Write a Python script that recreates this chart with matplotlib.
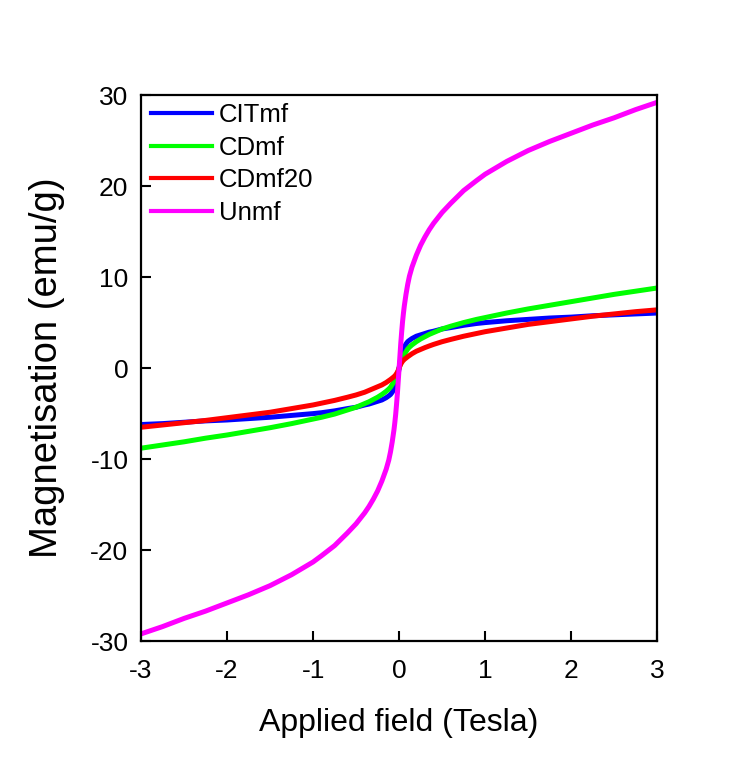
import matplotlib
matplotlib.use("Agg")
import matplotlib.pyplot as plt

plt.rcParams['font.family'] = ['Liberation Sans', 'DejaVu Sans']

# Applied field (T)
field = [-3.0, -2.75, -2.5, -2.25, -2.0, -1.75, -1.5, -1.25, -1.0, -0.9, -0.75, -0.6,
         -0.5, -0.4, -0.35, -0.3, -0.25, -0.2, -0.15, -0.12, -0.1, -0.08, -0.06,
         -0.05, -0.04, -0.03, -0.02, -0.01, 0.0,
         0.01, 0.02, 0.03, 0.04, 0.05, 0.06, 0.08, 0.1, 0.12, 0.15, 0.2, 0.25,
         0.3, 0.35, 0.4, 0.5, 0.6, 0.75, 0.9, 1.0, 1.25, 1.5, 1.75, 2.0, 2.25,
         2.5, 2.75, 3.0]

# Magnetisation (emu/g) of each sample
citmf = [-6.2, -6.1, -5.95, -5.8, -5.7, -5.55, -5.4, -5.2, -5.0, -4.9, -4.7, -4.45,
         -4.3, -4.05, -3.95, -3.8, -3.65, -3.5, -3.25, -3.05, -2.9, -2.65, -2.3,
         -2.1, -1.85, -1.5, -1.1, -0.6, 0.0,
         0.6, 1.1, 1.5, 1.85, 2.1, 2.3, 2.65, 2.9, 3.05, 3.25, 3.5, 3.65,
         3.8, 3.95, 4.05, 4.3, 4.45, 4.7, 4.9, 5.0, 5.2, 5.35, 5.5, 5.6, 5.75,
         5.85, 5.95, 6.05]

cdmf = [-8.8, -8.45, -8.1, -7.7, -7.35, -6.95, -6.55, -6.1, -5.6, -5.4, -5.05, -4.6,
        -4.3, -3.9, -3.7, -3.45, -3.2, -2.9, -2.55, -2.3, -2.1, -1.8, -1.5,
        -1.3, -1.1, -0.85, -0.6, -0.3, 0.0,
        0.3, 0.6, 0.85, 1.1, 1.3, 1.5, 1.8, 2.1, 2.3, 2.55, 2.9, 3.2,
        3.45, 3.7, 3.9, 4.3, 4.6, 5.0, 5.35, 5.55, 6.05, 6.5, 6.9, 7.3, 7.7,
        8.1, 8.45, 8.8]

cdmf20 = [-6.5, -6.25, -6.0, -5.75, -5.45, -5.15, -4.85, -4.45, -4.05, -3.85, -3.55, -3.2,
          -2.95, -2.65, -2.45, -2.25, -2.05, -1.85, -1.58, -1.38, -1.25, -1.1, -0.95,
          -0.85, -0.75, -0.6, -0.45, -0.25, 0.0,
          0.25, 0.45, 0.6, 0.75, 0.85, 0.95, 1.1, 1.25, 1.38, 1.58, 1.85, 2.05,
          2.25, 2.43, 2.6, 2.9, 3.15, 3.5, 3.8, 4.0, 4.4, 4.8, 5.1, 5.4, 5.7,
          5.95, 6.2, 6.4]

unmf = [-29.2, -28.4, -27.5, -26.7, -25.8, -24.9, -23.9, -22.7, -21.3, -20.6, -19.5, -18.1,
        -17.1, -15.9, -15.2, -14.4, -13.5, -12.4, -11.1, -10.1, -9.2, -8.1, -6.8,
        -6.0, -5.1, -4.0, -2.8, -1.4, 0.0,
        1.4, 2.8, 4.0, 5.1, 6.0, 6.8, 8.1, 9.2, 10.1, 11.1, 12.4, 13.5,
        14.4, 15.2, 15.9, 17.1, 18.1, 19.5, 20.6, 21.3, 22.7, 23.9, 24.9, 25.8, 26.7,
        27.5, 28.4, 29.2]

labels = ["CITmf", "CDmf", "CDmf20", "Unmf"]
colors = ["#0000ff", "#00ff00", "#ff0000", "#ff00ff"]
series = [citmf, cdmf, cdmf20, unmf]

xticks = [-3, -2, -1, 0, 1, 2, 3]
yticks = [-30, -20, -10, 0, 10, 20, 30]

fig = plt.figure(figsize=(7.46, 7.57), dpi=100)
ax = fig.add_axes([0.189, 0.153, 0.692, 0.7215])

for y, c, lab in zip(series, colors, labels):
    ax.plot(field, y, color=c, lw=3.6, label=lab, solid_joinstyle='round')

ax.set_xlim(-3, 3)
ax.set_ylim(-30, 30)
ax.set_xticks(xticks)
ax.set_yticks(yticks)
ax.set_xticklabels([str(t) for t in xticks])
ax.set_yticklabels([str(t) for t in yticks])
ax.tick_params(direction='in', length=7, width=1.5, labelsize=19,
               top=False, right=False)
ax.tick_params(axis='x', pad=13)
ax.tick_params(axis='y', pad=9)
for s in ax.spines.values():
    s.set_linewidth(1.6)

ax.set_xlabel("Applied field (Tesla)", fontsize=23, labelpad=18)
ax.set_ylabel("Magnetisation (emu/g)", fontsize=27.5, labelpad=18)

leg = ax.legend(loc='upper left', frameon=False, fontsize=18.5, handlelength=2.35,
                handletextpad=0.28, labelspacing=0.33, borderaxespad=0.0,
                bbox_to_anchor=(0.0, 1.004))
for h in leg.get_lines():
    h.set_linewidth(3.0)

fig.savefig("out.png", dpi=100, facecolor='white')
